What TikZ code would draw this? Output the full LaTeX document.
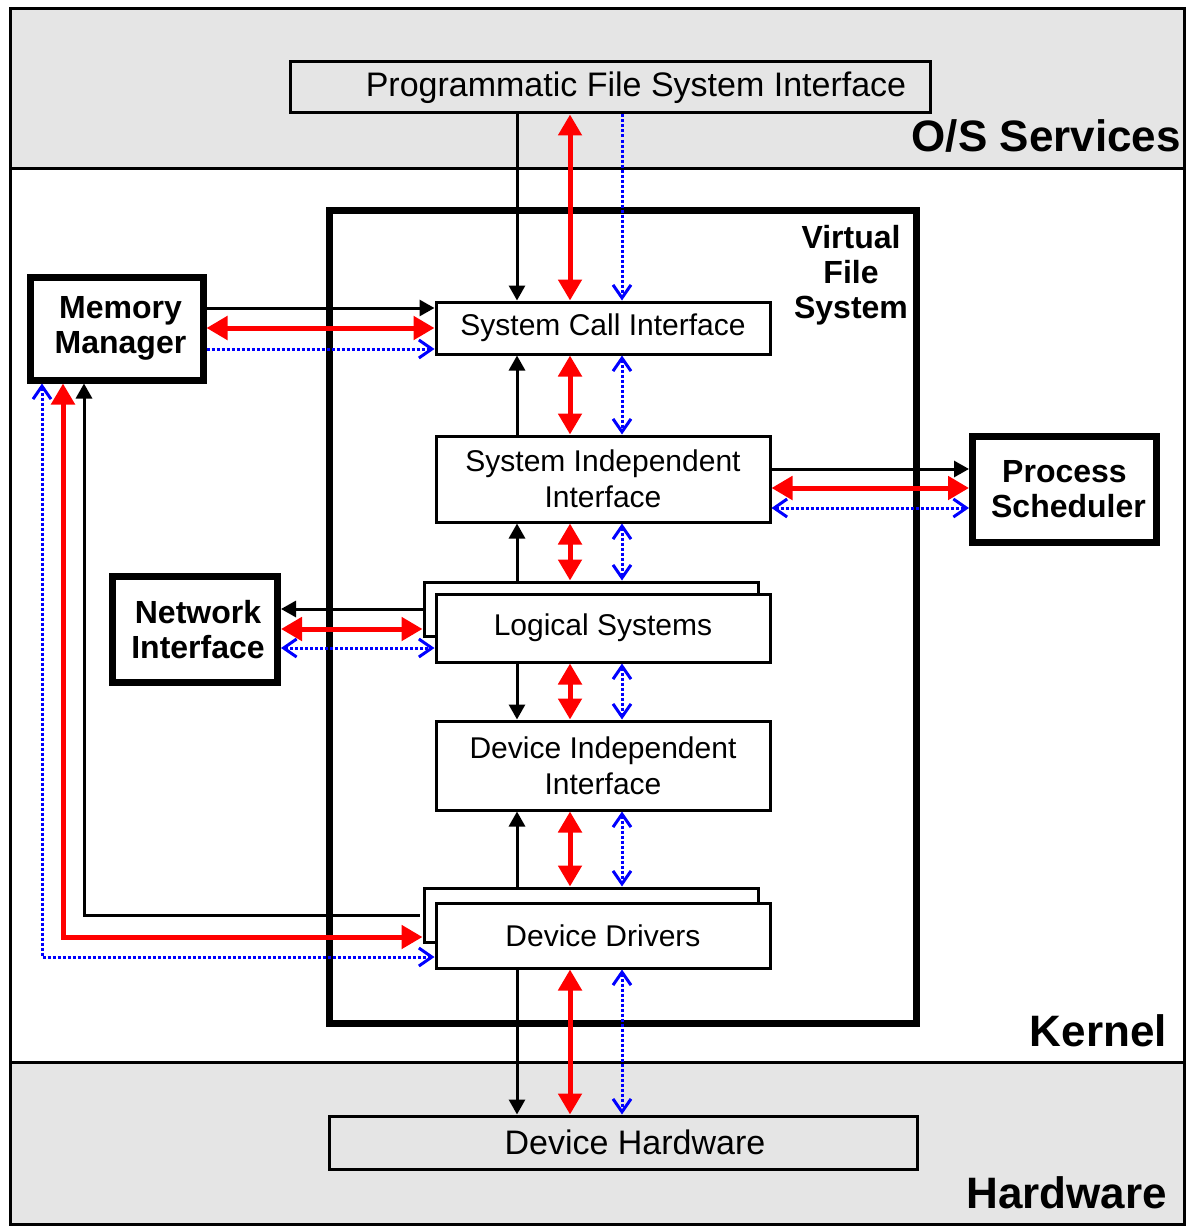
\documentclass[tikz,border=0pt]{standalone}
\usepackage{fontspec}
\setmainfont{Liberation Sans}
\usetikzlibrary{arrows.meta}
\definecolor{bandgray}{HTML}{E5E5E5}
\begin{document}
\begin{tikzpicture}[x=1pt,y=-1pt,
  box/.style={draw, line width=3pt, fill=white, inner sep=0pt, align=center, font=\fontsize{30}{36}\selectfont},
  thickbox/.style={draw, line width=7pt, fill=white, inner sep=0pt, align=center, font=\bfseries\fontsize{32}{35}\selectfont},
  biglabel/.style={inner sep=0pt, font=\bfseries\fontsize{44}{50}\selectfont},
  blk/.style={line width=3pt, draw=black},
  blkarr/.style={blk, -{Triangle[length=15pt,width=16pt]}},
  redarr/.style={line width=5pt, draw=red, {Triangle[length=21pt,width=23pt]}-{Triangle[length=21pt,width=23pt]}},
  bdot/.style={line width=3pt, draw=blue, dash pattern=on 3pt off 2pt},
  bone/.style={bdot, -{Straight Barb[length=13pt,width=18pt]}},
  btwo/.style={bdot, {Straight Barb[length=13pt,width=18pt]}-{Straight Barb[length=13pt,width=18pt]}}
]
\useasboundingbox (0,0) rectangle (1189,1228);
% bands
\fill[bandgray] (10,9) rectangle (1184,168);
\fill[bandgray] (10,1062) rectangle (1184,1224);
\draw[line width=3pt] (10,9) rectangle (1184,1224);
\draw[line width=3pt] (10,168) -- (1184,168);
\draw[line width=3pt] (10,1062) -- (1184,1062);

% outer boxes
\node[box, fill=bandgray, minimum width=640pt, minimum height=51pt, font=\fontsize{34}{40}\selectfont] (pfsi) at (610,87.5) {\hspace*{52pt}Programmatic File System Interface};
\node[box, fill=bandgray, minimum width=588pt, minimum height=53pt, font=\fontsize{34}{40}\selectfont] (dh) at (623,1142.5) {\hspace*{24pt}Device Hardware};
\node[draw, line width=7pt, inner sep=0pt, minimum width=587.5pt, minimum height=813.5pt] (vfs) at (622.75,616.75) {};

% labels
\node[biglabel, anchor=base east] (oslbl) at (1181,151) {O/S Services};
\node[biglabel, anchor=base east] (klbl) at (1167,1046) {Kernel};
\node[biglabel, anchor=base east] (hwlbl) at (1167,1208) {Hardware};
\node[inner sep=0pt, align=center, font=\bfseries\fontsize{32}{35}\selectfont] (vfslbl) at (851,275) {Virtual\\File\\System};

% inner boxes
\node[box, minimum width=334pt, minimum height=52pt] (sci) at (603,328) {System Call Interface};
\node[box, minimum width=334pt, minimum height=86pt] (sii) at (603,479) {System Independent\\Interface};
\node[box, minimum width=334pt, minimum height=54pt] (lsb) at (591,609) {};
\node[box, minimum width=334pt, minimum height=68pt] (ls) at (603,628) {Logical Systems};
\node[box, minimum width=334pt, minimum height=89pt] (dii) at (603,765.5) {Device Independent\\Interface};
\node[box, minimum width=334pt, minimum height=54pt] (ddb) at (591,915) {};
\node[box, minimum width=334pt, minimum height=65pt] (dd) at (603,935.5) {Device Drivers};

% side boxes
\node[thickbox, minimum width=173pt, minimum height=103pt] (mm) at (116.5,328.5) {\hspace*{8pt}Memory\\\hspace*{8pt}Manager};
\node[thickbox, minimum width=165pt, minimum height=106pt] (ni) at (195,629.5) {\hspace*{6pt}Network\\\hspace*{6pt}Interface};
\node[thickbox, minimum width=184pt, minimum height=106pt] (ps) at (1064.5,489.5) {Process\\\hspace*{8pt}Scheduler};

% helper coordinates
\coordinate (cb) at (517,0);
\coordinate (cr) at (570,0);
\coordinate (cu) at (622,0);
\coordinate (mx1) at (42,0);
\coordinate (mx2) at (63,0);
\coordinate (mx3) at (84,0);
\coordinate (y1) at (0,308);
\coordinate (y2) at (0,328);
\coordinate (y3) at (0,349);
\coordinate (y4) at (0,469);
\coordinate (y5) at (0,488);
\coordinate (y6) at (0,508);
\coordinate (y7) at (0,609);
\coordinate (y8) at (0,629);
\coordinate (y9) at (0,648);
\coordinate (y11) at (0,937);
\coordinate (y12) at (0,957);

% central column
\draw[blkarr] (pfsi.south -| cb) -- (sci.north -| cb);
\draw[redarr] (pfsi.south -| cr) -- (sci.north -| cr);
\draw[bone] (pfsi.south -| cu) -- (sci.north -| cu);

\draw[blkarr] (sii.north -| cb) -- (sci.south -| cb);
\draw[redarr] (sci.south -| cr) -- (sii.north -| cr);
\draw[btwo] (sci.south -| cu) -- (sii.north -| cu);

\draw[blkarr] (lsb.north -| cb) -- (sii.south -| cb);
\draw[redarr] (sii.south -| cr) -- (lsb.north -| cr);
\draw[btwo] (sii.south -| cu) -- (lsb.north -| cu);

\draw[blkarr] (ls.south -| cb) -- (dii.north -| cb);
\draw[redarr] (ls.south -| cr) -- (dii.north -| cr);
\draw[btwo] (ls.south -| cu) -- (dii.north -| cu);

\draw[blkarr] (ddb.north -| cb) -- (dii.south -| cb);
\draw[redarr] (dii.south -| cr) -- (ddb.north -| cr);
\draw[btwo] (dii.south -| cu) -- (ddb.north -| cu);

\draw[blkarr] (dd.south -| cb) -- (dh.north -| cb);
\draw[redarr] (dd.south -| cr) -- (dh.north -| cr);
\draw[btwo] (dd.south -| cu) -- (dh.north -| cu);

% memory manager
\draw[blkarr] (mm.east |- y1) -- (sci.west |- y1);
\draw[redarr] (mm.east |- y2) -- (sci.west |- y2);
\draw[bone] (mm.east |- y3) -- (sci.west |- y3);

% process scheduler
\draw[blkarr] (sii.east |- y4) -- (ps.west |- y4);
\draw[redarr] (sii.east |- y5) -- (ps.west |- y5);
\draw[btwo] (sii.east |- y6) -- (ps.west |- y6);

% network interface
\draw[blkarr] (lsb.west |- y7) -- (ni.east |- y7);
\draw[redarr] (ni.east |- y8) -- (lsb.west |- y8);
\draw[btwo] (ni.east |- y9) -- (ls.west |- y9);

% device drivers to memory manager
\draw[blkarr] ([xshift=-3pt]ddb.west) -| (mm.south -| mx3);
\draw[redarr] (mm.south -| mx2) |- (ddb.west |- y11);
\draw[btwo] (mm.south -| mx1) |- (dd.west |- y12);
\end{tikzpicture}
\end{document}
